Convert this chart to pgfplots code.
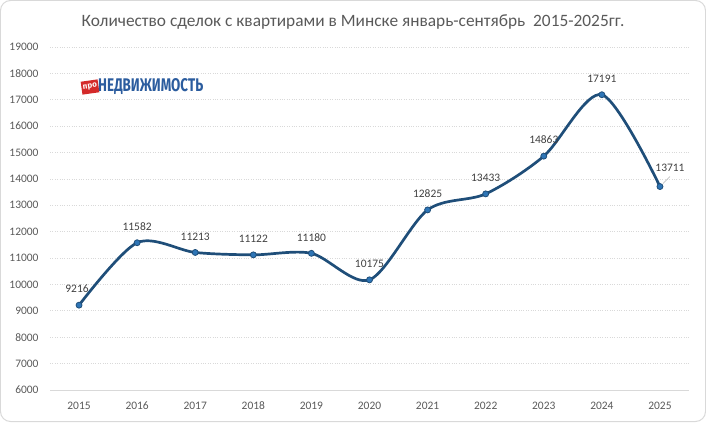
\documentclass[border=0pt]{standalone}
\usepackage{pgfplots}
\pgfplotsset{compat=1.18}
\usepackage{fontspec}
\setmainfont{Carlito}
\newfontfamily\logofont{Fira Sans}
\definecolor{linec}{HTML}{1F4E79}
\definecolor{markc}{HTML}{2E75B6}
\definecolor{gridc}{HTML}{D9D9D9}
\definecolor{textc}{HTML}{595959}
\definecolor{labc}{HTML}{404040}
\definecolor{logob}{HTML}{2B5C9E}
\definecolor{logor}{HTML}{D42A2A}
\begin{document}
\begin{tikzpicture}[x=1bp,y=1bp]
\useasboundingbox (0,0) rectangle (706,422);
\draw[gridc, line width=1bp, rounded corners=10bp] (0.5,0.5) rectangle (705.5,421.5);
\node[text=textc, font=\fontsize{17.4}{19}\selectfont] at (353,400) {Количество сделок с квартирами в Минске январь-сентябрь \ 2015-2025гг.};
% logo
\node[fill=logor, rotate=8, inner sep=1.5bp, minimum width=15bp, minimum height=13bp, text=white, font=\logofont\bfseries\fontsize{8}{8}\selectfont] at (90,335) {про};
\node[anchor=west, inner sep=0pt, text=logob] at (98,335) {\resizebox{105bp}{13bp}{\logofont\bfseries НЕДВИЖИМОСТЬ}};
\begin{axis}[
  at={(50bp,32bp)}, anchor=south west,
  scale only axis, width=639bp, height=343bp,
  xmin=-0.5, xmax=10.5, ymin=6000, ymax=19000,
  xtick={0,...,10},
  xticklabels={2015,2016,2017,2018,2019,2020,2021,2022,2023,2024,2025},
  ytick={6000,7000,...,19000},
  scaled y ticks=false,
  yticklabel={\pgfmathprintnumber[1000 sep={},fixed,precision=0]{\tick}},
  /pgf/number format/1000 sep={},
  /pgf/number format/assume math mode=true,
  ticklabel style={font=\fontsize{11.5}{13}\selectfont, text=textc},
  xticklabel style={text height=7.5bp, text depth=0bp, yshift=-8bp},
  yticklabel style={xshift=-8bp},
  major tick length=0pt,
  axis line style={draw=none},
  axis x line*=bottom,
  ymajorgrids, grid style={gridc, dotted, line width=0.8bp},
  clip=false,
  nodes near coords,
  nodes near coords style={font=\fontsize{11.5}{13}\selectfont, text=labc, yshift=8.5bp,
     /pgf/number format/1000 sep={}, /pgf/number format/assume math mode=true},
]
\draw[gridc, line width=1bp] (axis cs:-0.5,6000) -- (axis cs:10.5,6000);
\addplot[linec, line width=2.7bp, smooth, mark=*, mark size=3bp,
  mark options={fill=markc, draw=linec, line width=0.8bp},
  coordinate style/.condition={\coordindex==10}{xshift=10bp, yshift=3bp},
  coordinate style/.condition={\coordindex==0}{xshift=-2bp}]
  coordinates {
  (0,9216) (1,11582) (2,11213) (3,11122) (4,11180) (5,10175)
  (6,12825) (7,13433) (8,14863) (9,17191) (10,13711)
};
\draw[gray!60, line width=0.6bp] ([xshift=3bp,yshift=3bp]axis cs:10,13711) -- ([xshift=10bp,yshift=10bp]axis cs:10,13711);
\end{axis}
\end{tikzpicture}
\end{document}
